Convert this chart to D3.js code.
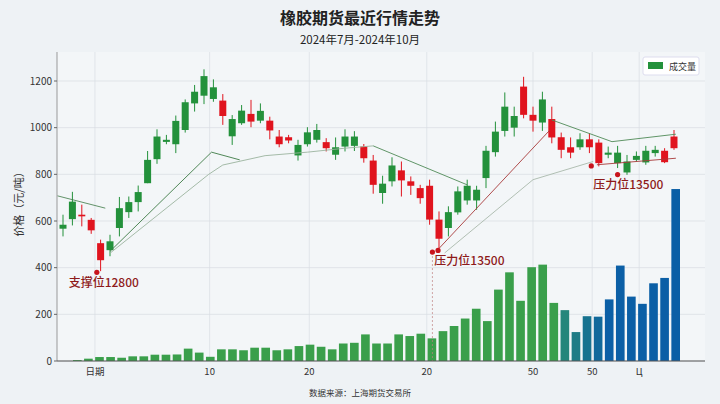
<!DOCTYPE html>
<html lang="zh">
<head>
<meta charset="UTF-8">
<script src="https://d3js.org/d3.v7.min.js"></script>
<style>
  body { margin: 0; background: #eef2f5; font-family: "Noto Sans CJK SC", "Noto Sans", sans-serif; }
</style>
</head>
<body>
<div id="chart"></div>
<script>
// K线数据：开、收、高、低
const opens  = [567,608,627,605,505,475,570,638,681,762,865,939,929,990,1104,1137,1123,1116,963,1019,1059,1030,1030,962,959,881,929,948,938,884,919,922,919,859,720,770,817,770,741,751,606,570,637,688,688,784,895,986,1000,1176,1055,1022,1037,959,916,916,950,936,884,848,808,862,851,891,901,962];
const closes = [584,683,620,560,432,513,655,681,724,862,962,948,1029,1109,1154,1221,1173,1050,1037,1073,1026,1072,988,929,945,926,980,990,912,916,962,962,869,755,760,838,774,751,698,606,524,638,727,751,734,901,983,1090,1050,1055,1030,1121,958,905,893,950,916,848,893,893,855,879,901,905,852,912];
const highs  = [627,725,670,613,520,541,703,705,752,900,993,969,1052,1121,1183,1250,1207,1144,1054,1097,1119,1104,1047,990,969,948,1002,1016,955,958,993,985,930,883,794,873,855,791,755,777,641,663,748,777,751,922,1026,1151,1090,1218,1090,1154,1090,979,958,976,976,950,919,922,883,898,922,922,912,990];
const lows   = [534,581,577,545,385,449,534,613,641,762,845,929,891,979,1069,1101,1111,1012,926,1012,1002,1019,950,916,933,859,919,936,898,862,898,900,850,717,674,748,705,712,674,584,484,534,627,670,648,741,876,962,962,1040,983,986,933,869,869,905,891,834,869,827,798,855,841,876,848,905];
// 成交量
const volumes = [4,10,17,17,14,20,20,27,27,28,53,36,18,50,50,46,57,57,46,50,64,70,61,50,75,78,
  114,75,75,114,107,117,97,128,150,182,224,171,306,380,258,402,413,249,218,124,192,190,264,409,276,245,333,356,737];
const yTicks = [0,200,400,600,800,1000,1200];
const xTickPos = [3.4,15.6,26.2,38.7,50,56.3,61.3];
const xTickLabels = ["日期","10","20","20","50","50","Ц"];
// 趋势线（K线序号, 价格）
const trendLines = [
  {color:"#3d7a45", w:0.8, pts:[[-0.6,708],[4.5,655]]},
  {color:"#3d7a45", w:0.9, pts:[[5,470],[15.8,895],[18.8,862]]},
  {color:"#9bb39e", w:0.9, pts:[[5,462],[15.5,800],[17,840],[21.5,880],[26,895],[30,912],[33,922]]},
  {color:"#4f8a57", w:0.9, pts:[[33,922],[43,755]]},
  {color:"#a83a3a", w:0.9, pts:[[39.9,478],[51.8,990]]},
  {color:"#a9b9ab", w:0.9, pts:[[40.6,463],[50,777],[56.4,855]]},
  {color:"#4f8a57", w:0.9, pts:[[52,1033],[58.4,940],[65.2,972]]},
  {color:"#a83a3a", w:0.9, pts:[[56.8,841],[65.2,869]]}
];
const markers = [[3.6,380],[39.3,467],[39.9,474],[56.2,836],[59,799]];
const labels = [{i:0.6,v:318,t:"支撑位12800"},{i:39.5,v:410,t:"压力位13500"},{i:56.4,v:737,t:"压力位13500"}];

const width = 720, height = 404;
const m = {left:57, right:705, top:52, bottom:361};
const svg = d3.select("#chart").append("svg").attr("width", width).attr("height", height);

svg.append("rect").attr("x", m.left).attr("y", m.top).attr("width", m.right-m.left)
  .attr("height", m.bottom-m.top).attr("fill", "#f3f6f8");

const x = d3.scaleLinear().domain([0, opens.length-1]).range([63, 674]);
const y = d3.scaleLinear().domain([0, 1200]).range([m.bottom, 81]);
const xv = d3.scaleBand().domain(d3.range(volumes.length)).range([73, 680]).paddingInner(0.22);

// 网格
svg.append("g").selectAll("line").data(yTicks).join("line")
  .attr("x1", m.left).attr("x2", m.right).attr("y1", d=>y(d)).attr("y2", d=>y(d))
  .attr("stroke", "#d8dde2").attr("stroke-width", 0.7);
svg.append("g").selectAll("line").data(xTickPos).join("line")
  .attr("x1", d=>x(d)).attr("x2", d=>x(d)).attr("y1", m.top).attr("y2", m.bottom)
  .attr("stroke", "#d8dde2").attr("stroke-width", 0.7);

// 成交量
const volColor = i => i <= 43 ? "#3a9f4b" : i >= 48 ? "#0b5fa6" : d3.interpolateRgb("#2a9070", "#0b5fa6")((i-43)/5);
svg.append("g").selectAll("rect").data(volumes).join("rect")
  .attr("x", (d,i)=>xv(i)).attr("width", xv.bandwidth())
  .attr("y", d=>y(d)).attr("height", d=>y(0)-y(d))
  .attr("fill", (d,i)=>volColor(i));

// 辅助虚线
svg.append("line").attr("x1", x(39.3)).attr("x2", x(39.3)).attr("y1", y(467)).attr("y2", m.bottom)
  .attr("stroke", "#c08080").attr("stroke-width", 0.7).attr("stroke-dasharray", "2,2");

// K线
const cw = 7;
const candles = svg.append("g").selectAll("g").data(opens).join("g");
const col = i => closes[i] >= opens[i] ? "#23913b" : "#e0141e";
candles.append("line").attr("x1",(d,i)=>x(i)).attr("x2",(d,i)=>x(i))
  .attr("y1",(d,i)=>y(highs[i])).attr("y2",(d,i)=>y(lows[i]))
  .attr("stroke",(d,i)=>col(i)).attr("stroke-width",1);
candles.append("rect").attr("x",(d,i)=>x(i)-cw/2).attr("width",cw)
  .attr("y",(d,i)=>y(Math.max(opens[i],closes[i])))
  .attr("height",(d,i)=>Math.max(1.5, Math.abs(y(opens[i])-y(closes[i]))))
  .attr("fill",(d,i)=>col(i));

// 趋势线
const line = d3.line().x(d=>x(d[0])).y(d=>y(d[1]));
svg.append("g").selectAll("path").data(trendLines).join("path")
  .attr("d", d=>line(d.pts)).attr("fill","none")
  .attr("stroke", d=>d.color).attr("stroke-width", d=>d.w);

svg.append("g").selectAll("circle").data(markers).join("circle")
  .attr("cx", d=>x(d[0])).attr("cy", d=>y(d[1])).attr("r", 2.6).attr("fill", "#c8141c");
svg.append("g").selectAll("text").data(labels).join("text")
  .attr("x", d=>x(d.i)).attr("y", d=>y(d.v)).text(d=>d.t)
  .attr("font-size", 12).attr("fill", "#8e1a1a").attr("font-weight", 500);

// 坐标轴
svg.append("line").attr("x1", m.left).attr("x2", m.left).attr("y1", m.top).attr("y2", m.bottom).attr("stroke", "#999");
svg.append("line").attr("x1", m.left).attr("x2", m.right).attr("y1", m.bottom).attr("y2", m.bottom).attr("stroke", "#555");
svg.append("g").selectAll("text").data(yTicks).join("text")
  .attr("x", m.left-5).attr("y", d=>y(d)+3.5).attr("text-anchor","end")
  .attr("font-size", 10).attr("fill", "#333").text(d=>d);
svg.append("g").selectAll("line").data(yTicks).join("line")
  .attr("x1", m.left-3).attr("x2", m.left).attr("y1", d=>y(d)).attr("y2", d=>y(d)).attr("stroke", "#666");
svg.append("g").selectAll("text").data(xTickPos).join("text")
  .attr("x", d=>x(d)).attr("y", 375).attr("text-anchor","middle")
  .attr("font-size", 9.5).attr("fill", "#333").text((d,i)=>xTickLabels[i]);
svg.append("text").attr("transform", `translate(23,${(m.top+m.bottom)/2+ -5}) rotate(-90)`)
  .attr("text-anchor","middle").attr("font-size", 11).attr("fill","#333").text("价格（元/吨）");

// 标题
svg.append("text").attr("x", 360).attr("y", 24).attr("text-anchor","middle")
  .attr("font-size", 16).attr("font-weight","bold").attr("fill","#222").text("橡胶期货最近行情走势");
svg.append("text").attr("x", 360).attr("y", 44).attr("text-anchor","middle")
  .attr("font-size", 11.5).attr("fill","#222").text("2024年7月-2024年10月");
svg.append("text").attr("x", 360).attr("y", 396).attr("text-anchor","middle")
  .attr("font-size", 8.5).attr("fill","#333").text("数据来源：上海期货交易所");

// 图例
const lg = svg.append("g").attr("transform","translate(643,57)");
lg.append("rect").attr("width",56).attr("height",18).attr("rx",2).attr("fill","#fff").attr("stroke","#dde");
lg.append("rect").attr("x",5).attr("y",5).attr("width",15).attr("height",7).attr("fill","#23913b");
lg.append("text").attr("x",26).attr("y",12.5).attr("font-size",9).attr("fill","#333").text("成交量");
</script>
</body>
</html>
